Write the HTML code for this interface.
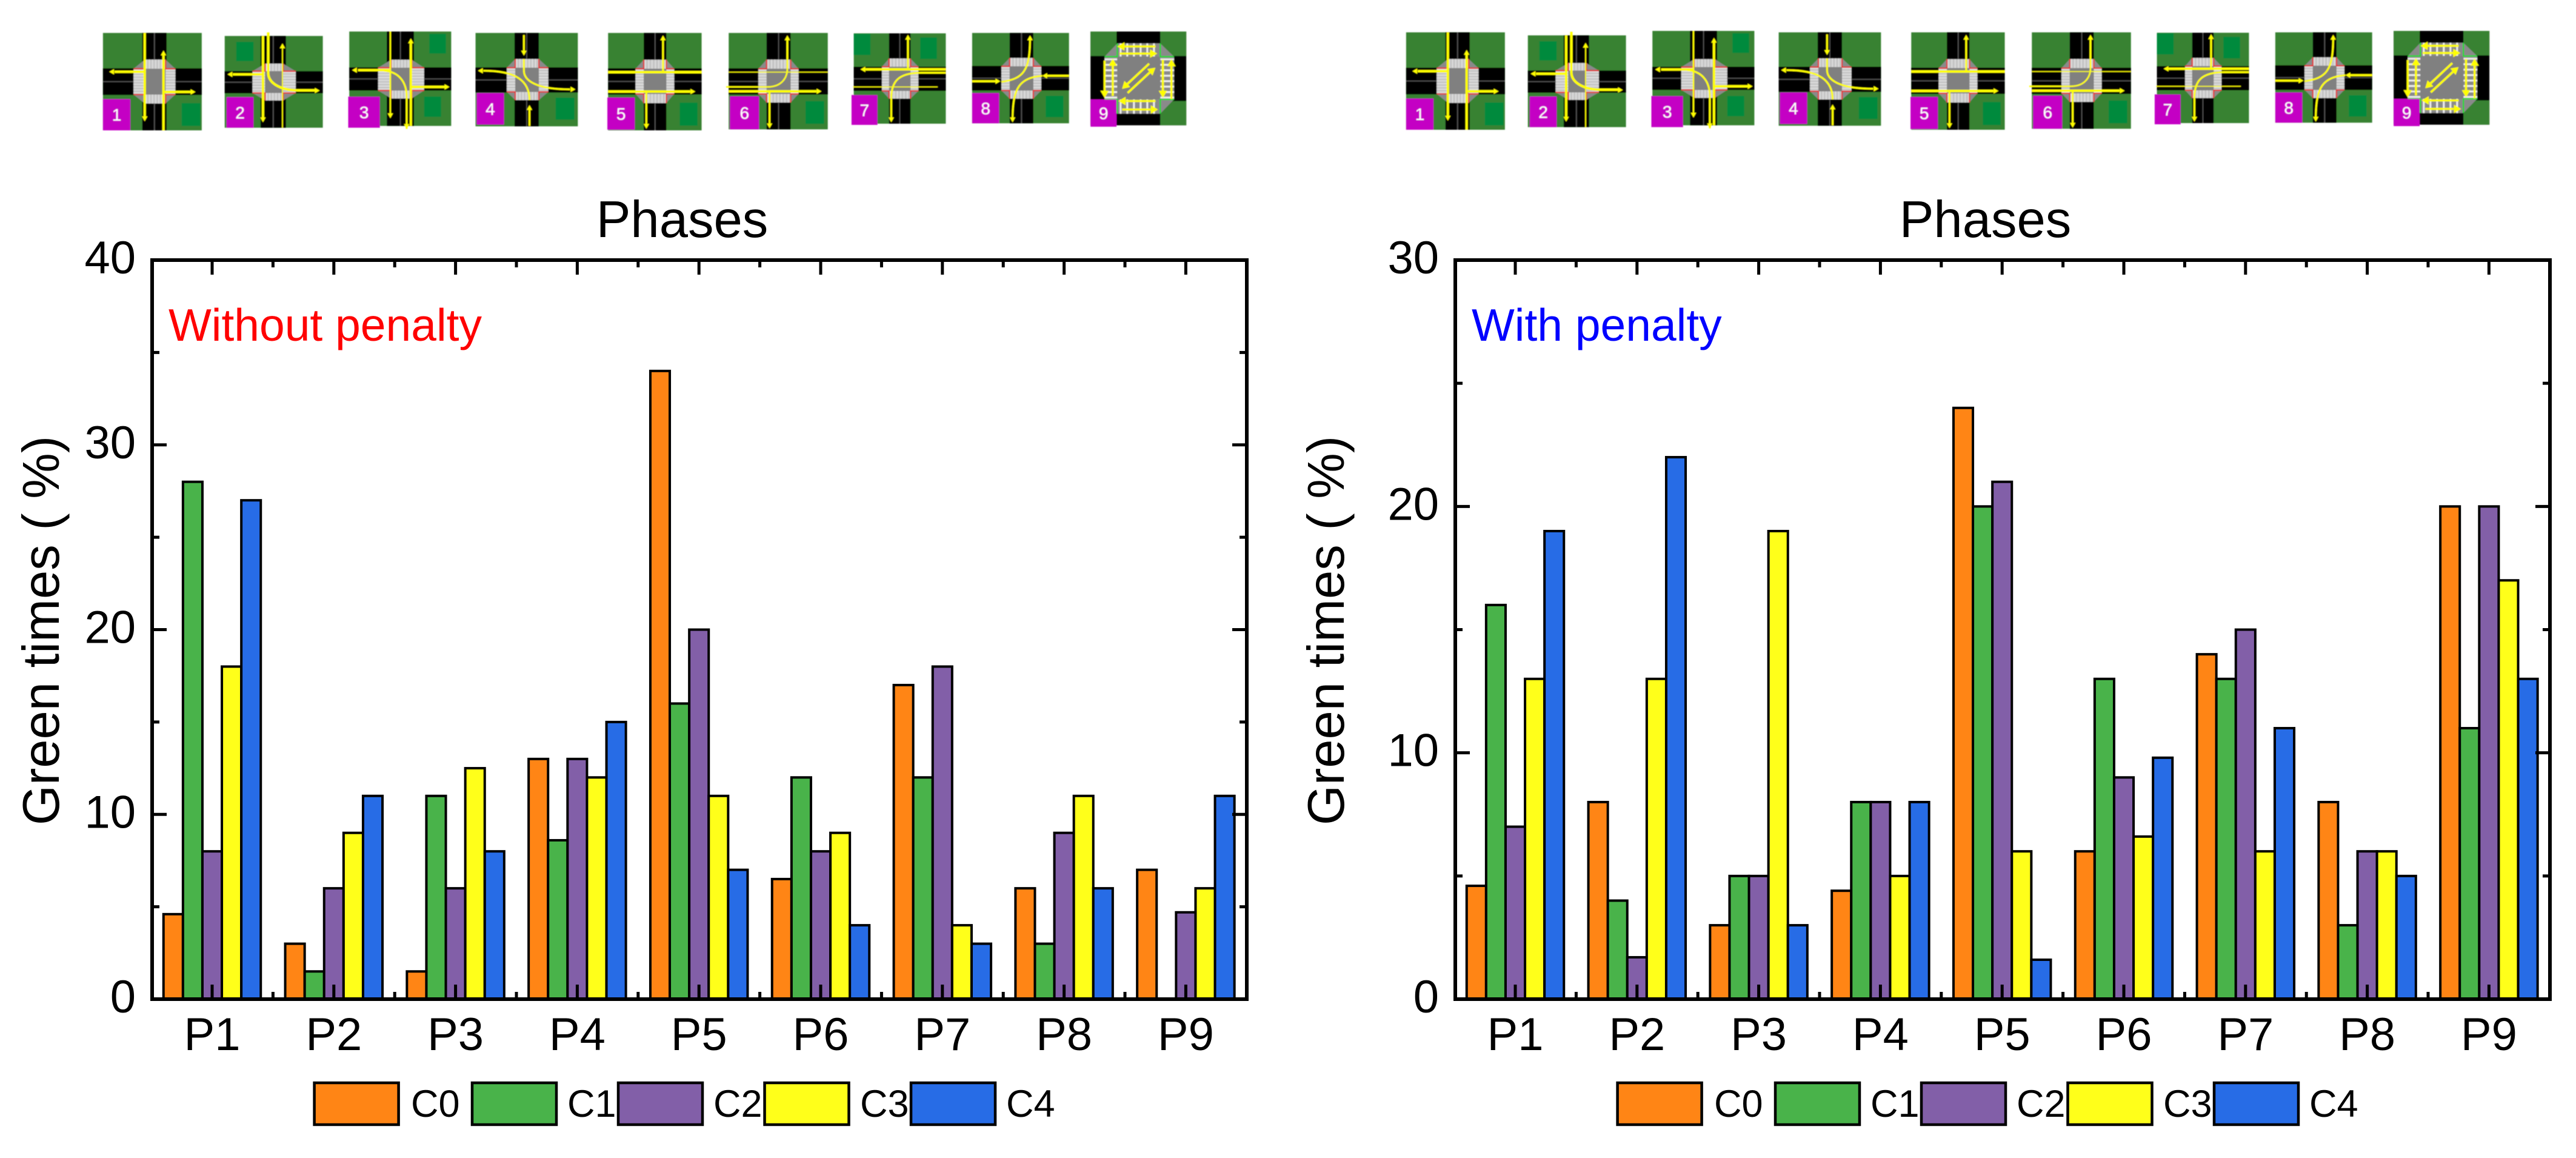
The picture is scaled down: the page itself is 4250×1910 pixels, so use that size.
<!DOCTYPE html>
<html lang="en">
<head>
<meta charset="utf-8">
<title>Green times by phase</title>
<style>
html,body{margin:0;padding:0;background:#fff;width:4250px;height:1910px;overflow:hidden}
svg text{font-family:"Liberation Sans",Arial,sans-serif}
</style>
</head>
<body>
<svg id="figure" xmlns="http://www.w3.org/2000/svg" width="4250" height="1910" viewBox="0 0 4250 1910" style="display:block">
  <defs><filter id="soft" x="-5%" y="-5%" width="110%" height="110%"><feGaussianBlur stdDeviation="0.8"/></filter></defs>
  <rect width="4250" height="1910" fill="#fff"/>
  <g id="icons-left"></g>
  <g id="icons-right"></g>

  <g id="panel-left">
    <g id="panel-left-bars"></g>
    <g id="panel-left-axes"></g>
    <rect x="251" y="429" width="1806" height="1219" fill="none" stroke="#000" stroke-width="6"/>
    <text x="1125.5" y="391" font-size="85" text-anchor="middle">Phases</text>
    <text transform="translate(97,1040) rotate(-90)" font-size="85" text-anchor="middle">Green times ( %)</text>
    <text x="278" y="562" font-size="75" fill="#ff0000">Without penalty</text>
    <g id="panel-left-legend"></g>
  </g>

  <g id="panel-right">
    <g id="panel-right-bars"></g>
    <g id="panel-right-axes"></g>
    <rect x="2401" y="429" width="1806" height="1219" fill="none" stroke="#000" stroke-width="6"/>
    <text x="3275.5" y="391" font-size="85" text-anchor="middle">Phases</text>
    <text transform="translate(2217,1040) rotate(-90)" font-size="85" text-anchor="middle">Green times ( %)</text>
    <text x="2428" y="562" font-size="75" fill="#0000ff">With penalty</text>
    <g id="panel-right-legend"></g>
  </g>
</svg>

<script>
/* ---------- chart data ---------- */
const categories = ['P1','P2','P3','P4','P5','P6','P7','P8','P9'];
const seriesNames = ['C0','C1','C2','C3','C4'];

const withoutC0 = [4.6, 3, 1.5, 13, 34, 6.5, 17, 6, 7];
const withoutC1 = [28, 1.5, 11, 8.6, 16, 12, 12, 3, 0];
const withoutC2 = [8, 6, 6, 13, 20, 8, 18, 9, 4.7];
const withoutC3 = [18, 9, 12.5, 12, 11, 9, 4, 11, 6];
const withoutC4 = [27, 11, 8, 15, 7, 4, 3, 6, 11];

const withC0 = [4.6, 8, 3, 4.4, 24, 6, 14, 8, 20];
const withC1 = [16, 4, 5, 8, 20, 13, 13, 3, 11];
const withC2 = [7, 1.7, 5, 8, 21, 9, 15, 6, 20];
const withC3 = [13, 13, 19, 5, 6, 6.6, 6, 6, 17];
const withC4 = [19, 22, 3, 8, 1.6, 9.8, 11, 5, 13];

const leftMajorTicks = [0, 10, 20, 30, 40];
const leftMinorTicks = [5, 15, 25, 35];
const rightMajorTicks = [0, 10, 20, 30];
const rightMinorTicks = [5, 15, 25];
const leftYMax = 40;
const rightYMax = 30;

/* ---------- helpers ---------- */
const NS = 'http://www.w3.org/2000/svg';
const seriesColors = ['#ff8515', '#49b34a', '#825fa8', '#ffff1a', '#276ce6'];

function mk(parent, tag, attrs, text) {
  const el = document.createElementNS(NS, tag);
  for (const k in attrs) el.setAttribute(k, attrs[k]);
  if (text !== undefined) el.textContent = text;
  parent.appendChild(el);
  return el;
}

/* ---------- chart panels ---------- */
const PLOT_TOP = 429, PLOT_BOTTOM = 1648, PLOT_WIDTH = 1806;
const FIRST_CATEGORY_OFFSET = 99, CATEGORY_STEP = 200.8, BAR_WIDTH = 32.1;

function drawPanel(prefix, left, series, yMax, majors, minors) {
  const bars = document.getElementById(prefix + '-bars');
  const axes = document.getElementById(prefix + '-axes');
  const legend = document.getElementById(prefix + '-legend');
  const right = left + PLOT_WIDTH;
  const xScale = i => left + FIRST_CATEGORY_OFFSET + CATEGORY_STEP * i;
  const yScale = v => PLOT_BOTTOM - (PLOT_BOTTOM - PLOT_TOP) * v / yMax;

  series.forEach((values, s) => {
    values.forEach((v, i) => {
      const x = xScale(i) - BAR_WIDTH * 2.5 + BAR_WIDTH * s;
      const bar = mk(bars, 'rect', {x: x, y: yScale(v), width: BAR_WIDTH, height: PLOT_BOTTOM - yScale(v), fill: seriesColors[s], stroke: '#000', 'stroke-width': 4});
      
      
    });
  });

  function vTick(x, y1, y2, name) {
    const t = mk(axes, 'line', {x1: x, x2: x, y1: y1, y2: y2, stroke: '#000', 'stroke-width': 5});
    
    
  }
  function hTick(y, x1, x2, name) {
    const t = mk(axes, 'line', {x1: x1, x2: x2, y1: y, y2: y, stroke: '#000', 'stroke-width': 5});
    
    
  }

  categories.forEach((c, i) => {
    const x = xScale(i);
    vTick(x, PLOT_BOTTOM, PLOT_BOTTOM - 24, 'x-tick-bottom');
    vTick(x, PLOT_TOP, PLOT_TOP + 24, 'x-tick-top');
    if (i < categories.length - 1) {
      const mx = (xScale(i) + xScale(i + 1)) / 2;
      vTick(mx, PLOT_BOTTOM, PLOT_BOTTOM - 12, 'x-minor-tick-bottom');
      vTick(mx, PLOT_TOP, PLOT_TOP + 12, 'x-minor-tick-top');
    }
    const label = mk(axes, 'text', {x: x, y: 1732, 'font-size': 76, 'text-anchor': 'middle'}, c);
    
    
  });

  majors.forEach(v => {
    const y = yScale(v);
    hTick(y, left, left + 24, 'y-tick-left');
    hTick(y, right, right - 24, 'y-tick-right');
    const label = mk(axes, 'text', {x: left - 27, y: y + 22, 'font-size': 76, 'text-anchor': 'end'}, String(v));
    
    
  });
  minors.forEach(v => {
    const y = yScale(v);
    hTick(y, left, left + 12, 'y-minor-tick-left');
    hTick(y, right, right - 12, 'y-minor-tick-right');
  });

  const swatchX = [518.6, 779, 1020, 1261.5, 1503];
  const labelX = [678, 936, 1177, 1419, 1660];
  seriesNames.forEach((n, s) => {
    const dx = left - 251;
    const sw = mk(legend, 'rect', {x: swatchX[s] + dx, y: 1786, width: 139, height: 69, fill: seriesColors[s], stroke: '#000', 'stroke-width': 4.5});
    
    
    const tx = mk(legend, 'text', {x: labelX[s] + dx, y: 1842, 'font-size': 63}, n);
    
    
  });
}

drawPanel('panel-left', 251, [withoutC0, withoutC1, withoutC2, withoutC3, withoutC4], leftYMax, leftMajorTicks, leftMinorTicks);
drawPanel('panel-right', 2401, [withC0, withC1, withC2, withC3, withC4], rightYMax, rightMajorTicks, rightMinorTicks);

/* ---------- phase diagrams (traced in a stretched reference frame) ---------- */
const frameA = {ox: 140, oy: 20, w: 900, h: 220, vw: 1568, vh: 660};
const frameB = {ox: 1040, oy: 20, w: 960, h: 220, vw: 1568, vh: 660};

const phaseIcons = [
  {n: 1, f: frameA, box: [52,103,336,585], road: [165,235,278,410], oct: [140,235,260,452], inner: [172,280,232,408], badge: [52,430,131,585], parks: [[278,450,332,563]],
   arrows: [['M172 103V520',4,172,540,172,500],['M172 295H85',4,70,295,100,295],['M226 585V205',4,226,190,226,230],['M226 395H305',4,318,395,290,395]]},
  {n: 2, f: frameA, box: [402,118,684,572], road: [505,578,292,402], oct: [482,255,606,437], inner: [518,292,570,400], badge: [407,420,485,572], parks: [[435,147,485,242]],
   arrows: [['M512 118V525',4,512,545,512,505],['M512 308H425',4,410,308,440,308],['M527 100V300C527 350 560 385 610 387H662',4,675,388,645,388],['M568 572V170',1.8,568,155,568,190]]},
  {n: 3, f: frameA, box: [760,96,1053,563], road: [868,946,273,388], oct: [843,236,975,427], inner: [880,275,940,388], badge: [757,418,848,572], parks: [[990,107,1038,205],[975,418,1024,518]],
   arrows: [['M878 96V515',2.5,878,525,878,495],['M878 287H785',4,768,287,800,287],['M937 563V145',4,937,130,937,170],['M937 370H1035',4,1048,370,1015,370],['M860 290C900 295 925 340 925 420V578',3,925,578,925,500]]},
  {n: 4, f: frameA, box: [1123,103,1417,565], road: [1235,1305,273,398], oct: [1213,232,1332,435], inner: [1237,275,1305,395], badge: [1126,400,1205,557], parks: [[1353,423,1407,532]],
   arrows: [['M1262 113V205',3,1262,215,1262,190],['M1262 232V290C1262 340 1300 383 1395 382',3,1410,382,1380,382],['M1278 563V470',3,1278,460,1278,490],['M1278 435C1278 340 1240 290 1145 290',3,1130,290,1160,290]]},
  {n: 5, f: frameB, box: [-60,103,192,585], road: [36,97,278,408], oct: [14,236,118,450], inner: [36,280,97,405], badge: [-62,422,12,582], parks: [[133,448,181,562]],
   arrows: [['M88 295V130',3,88,115,88,150],['M-60 297H192',4],['M-60 393H162',4,175,393,145,393],['M43 393V565',3,43,577,43,545]]},
  {n: 6, f: frameB, box: [265,103,532,580], road: [367,432,278,408], oct: [345,235,453,447], inner: [367,280,432,405], badge: [268,416,347,580], parks: [[472,440,522,553]],
   arrows: [['M265 297H532',1.5],['M423 280V128',3,423,115,423,150],['M258 370H370C410 370 423 320 423 280',2.5],['M265 392H502',4,515,392,485,392],['M375 392V562',3,375,575,375,540]]},
  {n: 7, f: frameB, box: [602,105,850,552], road: [697,755,270,390], oct: [678,230,776,428], inner: [697,270,755,390], badge: [596,410,666,558], parks: [[602,107,647,212],[781,125,826,232]],
   arrows: [['M748 283V125',3,748,112,748,145],['M850 283H633',4,620,283,650,283],['M850 300H785C720 300 703 345 703 430V532',3,703,545,703,515],['M600 370H828',1.5]]},
  {n: 8, f: frameB, box: [921,103,1182,550], road: [1022,1086,266,388], oct: [1000,227,1107,428], inner: [1022,268,1086,388], badge: [921,400,994,550], parks: [[1119,414,1167,520]],
   arrows: [['M921 342H985',3.5,997,342,970,342],['M1000 345C1060 330 1077 290 1077 128',3,1077,115,1077,150],['M1182 315H1122',3.5,1110,315,1135,315],['M1110 315C1050 325 1030 370 1030 532',3,1030,545,1030,515]]},
  {n: 9, f: frameB, box: [1240,96,1498,560], road: [1312,1428,220,432], oct: [1278,155,1465,502], inner: [1312,220,1428,432], badge: [1240,432,1310,567], parks: [], fourCorners: true,
   arrows: [['M1415 170H1330',3.5,1312,170,1345,170],['M1318 205H1402',3.5,1420,205,1390,205],['M1300 415V250',3.5,1300,230,1300,270],['M1278 240V405',3.5,1278,425,1278,385],['M1435 235V405',3.5,1435,425,1435,385],['M1458 430V250',3.5,1458,232,1458,270],['M1415 440H1335',3.5,1315,440,1350,440],['M1325 482H1402',3.5,1422,482,1390,482],['M1398 255L1338 358',3.5,1325,380,1345,345],['M1340 400L1400 298',3.5,1415,275,1395,305]]}
];

function drawIcon(parent, icon, dx, dy) {
  const f = icon.f;
  const sx = f.w / f.vw, sy = f.h / f.vh;
  const toPxX = x => f.ox + x * sx + dx;
  const toPxY = y => f.oy + y * sy + dy;
  const g = mk(parent, 'g', {filter: 'url(#soft)'});
  
  
  const s = mk(g, 'svg', {x: f.ox + dx, y: f.oy + dy, width: f.w, height: f.h, viewBox: '0 0 ' + f.vw + ' ' + f.vh, preserveAspectRatio: 'none', overflow: 'visible'});
  s.style.overflow = 'visible';
  const R = (a, fill) => mk(s, 'rect', {x: a[0], y: a[1], width: a[2] - a[0], height: a[3] - a[1], fill: fill});
  const [bx1, by1, bx2, by2] = icon.box;
  const [ox1, oy1, ox2, oy2] = icon.oct;
  const [ix1, iy1, ix2, iy2] = icon.inner;
  const rd = icon.road;
  const isNine = icon.n === 9;

  if (isNine) {
    R([bx1, by1, bx2, by2], '#000');
    R([bx1, by1, 1310, 217], '#378232');
    R([1428, by1, bx2, 217], '#378232');
    R([1428, 440, bx2, by2], '#378232');
  } else {
    R([bx1, by1, bx2, by2], '#378232');
    R([rd[0], by1, rd[1], by2], '#000');
    R([bx1, rd[2], bx2, rd[3]], '#000');
    const lineStyle = {stroke: '#555', 'stroke-width': 1.5, 'vector-effect': 'non-scaling-stroke'};
    mk(s, 'line', Object.assign({x1: (rd[0] + rd[1]) / 2, x2: (rd[0] + rd[1]) / 2, y1: by1, y2: by2}, lineStyle));
    mk(s, 'line', Object.assign({x1: bx1, x2: bx2, y1: (rd[2] + rd[3]) / 2, y2: (rd[2] + rd[3]) / 2}, lineStyle));
  }
  icon.parks.forEach(p => R(p, '#008a3e'));

  mk(s, 'polygon', {points: [ix1,oy1, ix2,oy1, ox2,iy1, ox2,iy2, ix2,oy2, ix1,oy2, ox1,iy2, ox1,iy1].join(' '), fill: '#8a8a8a'});
  const bandFill = isNine ? '#8a8a8a' : '#c6c6c6';
  R([ix1, oy1, ix2, oy2], bandFill);
  R([ox1, iy1, ox2, iy2], bandFill);

  const stripe = {stroke: '#eee', 'stroke-width': isNine ? 3 : 1, 'vector-effect': 'non-scaling-stroke'};
  const stepX = isNine ? 18 : 9, stepY = isNine ? 27 : 14;
  for (let x = ix1 + stepX / 2; x < ix2; x += stepX) {
    mk(s, 'line', Object.assign({x1: x, x2: x, y1: oy1, y2: iy1}, stripe));
    mk(s, 'line', Object.assign({x1: x, x2: x, y1: iy2, y2: oy2}, stripe));
  }
  for (let y = iy1 + stepY / 2; y < iy2; y += stepY) {
    mk(s, 'line', Object.assign({x1: ox1, x2: ix1, y1: y, y2: y}, stripe));
    mk(s, 'line', Object.assign({x1: ix2, x2: ox2, y1: y, y2: y}, stripe));
  }
  R([ix1, iy1, ix2, iy2], '#808080');

  mk(s, 'path', {d: `M${ix1} ${oy1}V${iy1}H${ox1}M${ix2} ${oy1}V${iy1}H${ox2}M${ix1} ${oy2}V${iy2}H${ox1}M${ix2} ${oy2}V${iy2}H${ox2}`, fill: 'none', stroke: isNine ? '#00e020' : '#e8282c', 'stroke-width': 2, 'vector-effect': 'non-scaling-stroke'});

  icon.arrows.forEach(a => {
    const arrow = mk(s, 'path', {d: a[0], fill: 'none', stroke: '#ffff00', 'stroke-width': a[1], 'vector-effect': 'non-scaling-stroke'});
    
    
    if (a.length > 2) {
      const hl = isNine ? 12 : 8, hw = isNine ? 7 : 4.5;
      const tx = a[2] * sx, ty = a[3] * sy, fx = a[4] * sx, fy = a[5] * sy;
      const len = Math.hypot(tx - fx, ty - fy) || 1;
      const ux = (tx - fx) / len, uy = (ty - fy) / len;
      const bxp = tx - ux * hl, byp = ty - uy * hl;
      const pts = [tx, ty, bxp - uy * hw, byp + ux * hw, bxp + uy * hw, byp - ux * hw];
      mk(s, 'polygon', {points: pts.map((v, k) => k % 2 ? v / sy : v / sx).join(' '), fill: '#ffff00'});
    }
  });

  const badge = R(icon.badge, '#c400c4');
  
  
  const num = mk(g, 'text', {x: toPxX((icon.badge[0] + icon.badge[2]) / 2), y: toPxY((icon.badge[1] + icon.badge[3]) / 2) + 10, 'font-size': 28, fill: '#fff', 'text-anchor': 'middle'}, String(icon.n));
  
  
}

const iconsLeft = document.getElementById('icons-left');
const iconsRight = document.getElementById('icons-right');
phaseIcons.forEach(icon => {
  drawIcon(iconsLeft, icon, 0, 0);
  drawIcon(iconsRight, icon, 2150, -1);
});
</script>
</body>
</html>
